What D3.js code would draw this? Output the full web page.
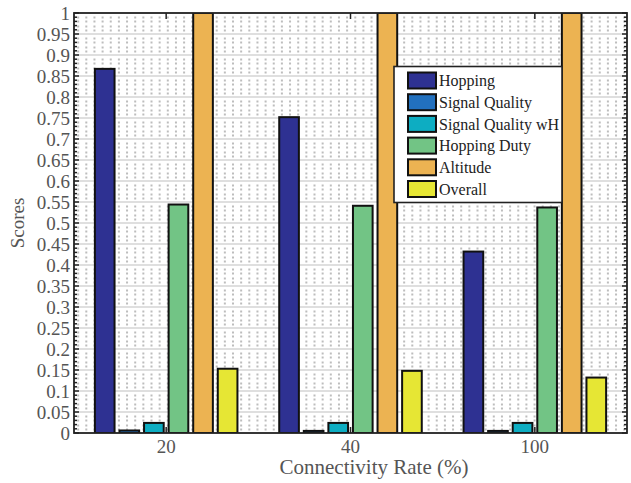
<!DOCTYPE html>
<html>
<head>
<meta charset="utf-8">
<script src="https://cdn.jsdelivr.net/npm/d3@7/dist/d3.min.js"></script>
<style>
  html, body { margin: 0; padding: 0; background: #fff; }
  svg { display: block; }
  text { font-family: "Liberation Serif", "DejaVu Serif", serif; }
</style>
</head>
<body>
<svg id="chart" width="631" height="483"></svg>
<script>
// Connectivity rate groups on the x axis
const categories = ["20", "40", "100"];

// Score series, one value per connectivity rate
const seriesNames = ["Hopping", "Signal Quality", "Signal Quality wH", "Hopping Duty", "Altitude", "Overall"];
const hopping          = [0.867, 0.752, 0.432];
const signalQuality    = [0.006, 0.005, 0.005];
const signalQualityWH  = [0.024, 0.024, 0.024];
const hoppingDuty      = [0.544, 0.541, 0.537];
const altitude         = [1.0, 1.0, 1.0];
const overall          = [0.153, 0.148, 0.132];
const seriesValues = [hopping, signalQuality, signalQualityWH, hoppingDuty, altitude, overall];
const seriesColors = ["#2e3192", "#2270be", "#0dadc2", "#72c485", "#ecb352", "#e6e634"];

// Y axis ticks and labels
const yTickValues = [0, 0.05, 0.1, 0.15, 0.2, 0.25, 0.3, 0.35, 0.4, 0.45, 0.5,
                     0.55, 0.6, 0.65, 0.7, 0.75, 0.8, 0.85, 0.9, 0.95, 1];
const yTickLabels = ["0", "0.05", "0.1", "0.15", "0.2", "0.25", "0.3", "0.35", "0.4", "0.45", "0.5",
                     "0.55", "0.6", "0.65", "0.7", "0.75", "0.8", "0.85", "0.9", "0.95", "1"];
const yMinorStep = 0.01;

const svg = d3.select("#chart");
const margin = { left: 74, right: 4, top: 13, bottom: 50 };
const W = 631, H = 483;
const x0 = margin.left, x1 = W - margin.right, yTop = margin.top, yBot = H - margin.bottom;

const x = d3.scaleBand().domain(categories).range([x0, x1]).paddingInner(0).paddingOuter(0);
const groupWidth = x.bandwidth() * 0.8;
const xSub = d3.scaleBand().domain(seriesNames).range([-groupWidth / 2, groupWidth / 2]).padding(0);
const barW = xSub.bandwidth() * 0.8;
const y = d3.scaleLinear().domain([0, 1]).range([yBot, yTop]);

svg.append("defs").append("clipPath").attr("id", "plotClip")
  .append("rect").attr("x", x0).attr("y", yTop).attr("width", x1 - x0).attr("height", yBot - yTop);

const plot = svg.append("g").attr("clip-path", "url(#plotClip)");

// Minor grid: dotted horizontal lines every 0.01
const minorVals = d3.range(1, 100).filter(i => i % 5 !== 0).map(i => i * yMinorStep);
plot.append("g").selectAll("line").data(minorVals).join("line")
  .attr("x1", x0).attr("x2", x1)
  .attr("y1", d => Math.round(y(d)) + 0.5).attr("y2", d => Math.round(y(d)) + 0.5)
  .attr("stroke", "#bdbdbd").attr("stroke-width", 1.8)
  .attr("stroke-dasharray", "2 6.15")
  .attr("stroke-dashoffset", -3.15);

// Major grid: solid light lines every 0.05
plot.append("g").selectAll("line").data(yTickValues.slice(1, -1)).join("line")
  .attr("x1", x0).attr("x2", x1)
  .attr("y1", d => y(d)).attr("y2", d => y(d))
  .attr("stroke", "#d5d5d5").attr("stroke-width", 1.6);

// Bars
const bars = [];
categories.forEach((c, ci) => {
  seriesNames.forEach((s, si) => {
    bars.push({ cat: c, series: s, value: seriesValues[si][ci], color: seriesColors[si] });
  });
});
plot.append("g").selectAll("rect").data(bars).join("rect")
  .attr("x", d => x(d.cat) + x.bandwidth() / 2 + xSub(d.series) + xSub.bandwidth() / 2 - barW / 2)
  .attr("y", d => y(d.value))
  .attr("width", barW)
  .attr("height", d => y(0) - y(d.value))
  .attr("fill", d => d.color)
  .attr("stroke", "#111").attr("stroke-width", 2);

// Axis ticks (pointing inward on all four sides)
const tickG = svg.append("g").attr("stroke", "#222").attr("stroke-width", 1.5);
const allMinor = d3.range(0, 101).map(i => i * yMinorStep);
allMinor.forEach((v, i) => {
  const len = i % 5 === 0 ? 5 : 3;
  tickG.append("line").attr("x1", x0).attr("x2", x0 + len).attr("y1", y(v)).attr("y2", y(v));
  tickG.append("line").attr("x1", x1).attr("x2", x1 - len).attr("y1", y(v)).attr("y2", y(v));
});
categories.forEach(c => {
  const cx = x(c) + x.bandwidth() / 2;
  tickG.append("line").attr("x1", cx).attr("x2", cx).attr("y1", yTop).attr("y2", yTop + 6);
  tickG.append("line").attr("x1", cx).attr("x2", cx).attr("y1", yBot).attr("y2", yBot - 6);
});

// Axes box
svg.append("rect").attr("x", x0).attr("y", yTop).attr("width", x1 - x0).attr("height", yBot - yTop)
  .attr("fill", "none").attr("stroke", "#222").attr("stroke-width", 1.8);

// Tick labels
svg.append("g").selectAll("text").data(yTickValues).join("text")
  .attr("x", x0 - 4).attr("y", d => y(d)).attr("dy", "0.35em")
  .attr("text-anchor", "end").attr("font-size", 19).attr("fill", "#555")
  .text((d, i) => yTickLabels[i]);

svg.append("g").selectAll("text").data(categories).join("text")
  .attr("x", d => x(d) + x.bandwidth() / 2).attr("y", yBot + 20)
  .attr("text-anchor", "middle").attr("font-size", 19).attr("fill", "#555")
  .text(d => d);

// Axis titles
svg.append("text").attr("x", 374).attr("y", yBot + 41)
  .attr("text-anchor", "middle").attr("font-size", 21).attr("fill", "#555")
  .text("Connectivity Rate (%)");
svg.append("text").attr("transform", `translate(24, ${(yTop + yBot) / 2}) rotate(-90)`)
  .attr("text-anchor", "middle").attr("font-size", 19).attr("fill", "#555")
  .text("Scores");

// Legend
const lg = svg.append("g");
const lgX = 394, lgY = 66.5, lgW = 168, lgH = 136;
lg.append("rect").attr("x", lgX).attr("y", lgY).attr("width", lgW).attr("height", lgH)
  .attr("fill", "#fff").attr("stroke", "#222").attr("stroke-width", 1.6);
const rowY = d3.scalePoint().domain(seriesNames).range([lgY + 14, lgY + 122.5]);
lg.selectAll("rect.sw").data(seriesNames).join("rect").attr("class", "sw")
  .attr("x", lgX + 14).attr("y", d => rowY(d) - 8).attr("width", 28).attr("height", 16)
  .attr("fill", (d, i) => seriesColors[i]).attr("stroke", "#111").attr("stroke-width", 2);
lg.selectAll("text").data(seriesNames).join("text")
  .attr("x", lgX + 45).attr("y", d => rowY(d)).attr("dy", "0.35em")
  .attr("font-size", 16).attr("fill", "#222")
  .text(d => d);
</script>
</body>
</html>
